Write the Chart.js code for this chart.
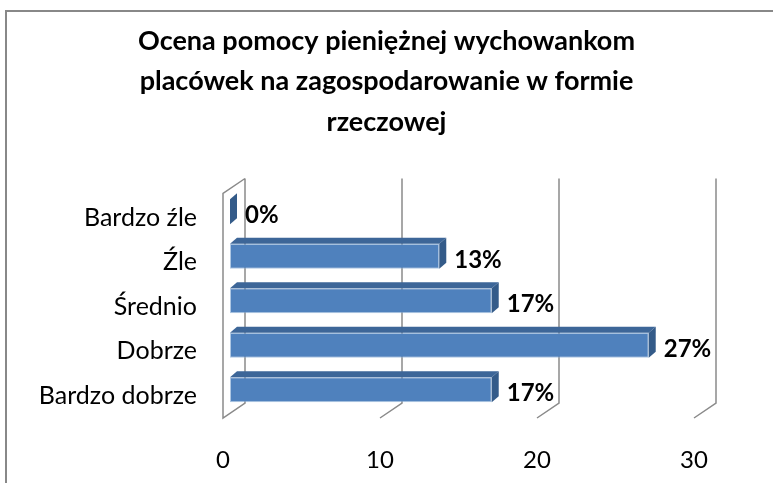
<!DOCTYPE html>
<html>
<head>
<meta charset="utf-8">
<script src="https://cdn.jsdelivr.net/npm/chart.js@4/dist/chart.umd.min.js"></script>
<style>
  html, body { margin: 0; padding: 0; background: #fff; overflow: hidden; }
  #frame { position: absolute; left: 5px; top: 10px; width: 900px; height: 600px; border: 2px solid #888; }
  #chart { position: absolute; left: 0; top: 0; }
</style>
</head>
<body>
<div id="frame"></div>
<canvas id="chart" width="773" height="483"></canvas>
<script>
const categories = ['Bardzo źle', 'Źle', 'Średnio', 'Dobrze', 'Bardzo dobrze']
const percentages = [0, 13.33, 16.67, 26.67, 16.67]
const tickValues = [0, 10, 20, 30]
const titleLines = [
  'Ocena pomocy pieniężnej wychowankom',
  'placówek na zagospodarowanie w formie',
  'rzeczowej'
]

const FONT = 'Lato, "Open Sans", sans-serif'

// depth of the 3D box (front plane -> back plane) and of each bar
const WALL = { dx: 22, dy: -15, front: -7 }
const BAR = { dx: 7, dy: -6 }

const threeD = {
  id: 'threeD',
  beforeDatasetsDraw (chart) {
    const { ctx, chartArea, scales } = chart
    const x = scales.x
    const topF = chartArea.top + 4
    const botF = chartArea.bottom + 6
    ctx.save()
    ctx.strokeStyle = '#8a8a8a'
    ctx.lineWidth = 1.5
    tickValues.forEach(v => {
      const xf = x.getPixelForValue(v) + WALL.front
      const xb = xf + WALL.dx
      ctx.beginPath()
      ctx.moveTo(xb, topF + WALL.dy)
      ctx.lineTo(xb, botF + WALL.dy)
      ctx.lineTo(xf, botF)
      if (v === 0) {
        ctx.lineTo(xf, topF)
        ctx.lineTo(xb, topF + WALL.dy)
      }
      ctx.stroke()
    })
    ctx.restore()
  },
  afterDatasetsDraw (chart) {
    const { ctx } = chart
    const meta = chart.getDatasetMeta(0)
    ctx.save()
    meta.data.forEach((bar, i) => {
      const p = bar.getProps(['x', 'y', 'base', 'height'], true)
      const top = p.y - p.height / 2
      const bot = p.y + p.height / 2
      // top face
      ctx.fillStyle = '#3d6698'
      ctx.beginPath()
      ctx.moveTo(p.base, top)
      ctx.lineTo(p.base + BAR.dx, top + BAR.dy)
      ctx.lineTo(p.x + BAR.dx, top + BAR.dy)
      ctx.lineTo(p.x, top)
      ctx.closePath()
      ctx.fill()
      // side face
      ctx.fillStyle = '#345b89'
      ctx.beginPath()
      ctx.moveTo(p.x, top)
      ctx.lineTo(p.x + BAR.dx, top + BAR.dy)
      ctx.lineTo(p.x + BAR.dx, bot + BAR.dy)
      ctx.lineTo(p.x, bot)
      ctx.closePath()
      ctx.fill()
      // value label
      ctx.fillStyle = '#000'
      ctx.font = 'bold 24px ' + FONT
      ctx.textAlign = 'left'
      ctx.textBaseline = 'middle'
      ctx.fillText(Math.round(percentages[i]) + '%', p.x + BAR.dx + 8, p.y + 4)
    })
    ctx.restore()
  }
}

new Chart(document.getElementById('chart'), {
  type: 'bar',
  data: {
    labels: categories,
    datasets: [
      {
        data: percentages,
        backgroundColor: '#4f81bd',
        borderColor: 'rgba(140, 175, 215, 0.7)',
        borderWidth: 1,
        borderSkipped: false,
        categoryPercentage: 1,
        barPercentage: 0.56
      }
    ]
  },
  plugins: [threeD],
  options: {
    indexAxis: 'y',
    responsive: false,
    animation: false,
    layout: { padding: 0 },
    plugins: {
      legend: { display: false },
      tooltip: { enabled: false },
      title: {
        display: true,
        text: titleLines,
        color: '#000',
        font: { family: FONT, size: 27, weight: 'bold', lineHeight: 1.5 },
        padding: { top: 21, bottom: 47 }
      }
    },
    scales: {
      x: {
        min: 0,
        max: 30,
        afterBuildTicks: s => { s.ticks = tickValues.map(v => ({ value: v })) },
        afterFit: s => { s.height = 71 },
        grid: { display: false },
        border: { display: false },
        ticks: {
          color: '#000',
          font: { family: FONT, size: 24 },
          padding: 26,
          labelOffset: -7,
          maxRotation: 0
        }
      },
      y: {
        afterFit: s => { s.width = 230 },
        grid: { display: false, drawTicks: false },
        border: { display: false },
        ticks: {
          color: '#000',
          font: { family: FONT, size: 25 },
          padding: 33,
          labelOffset: 6
        }
      },
      yRight: {
        position: 'right',
        type: 'linear',
        afterFit: s => { s.width = 72 },
        grid: { display: false },
        border: { display: false },
        ticks: { display: false }
      }
    }
  }
})
</script>
</body>
</html>
